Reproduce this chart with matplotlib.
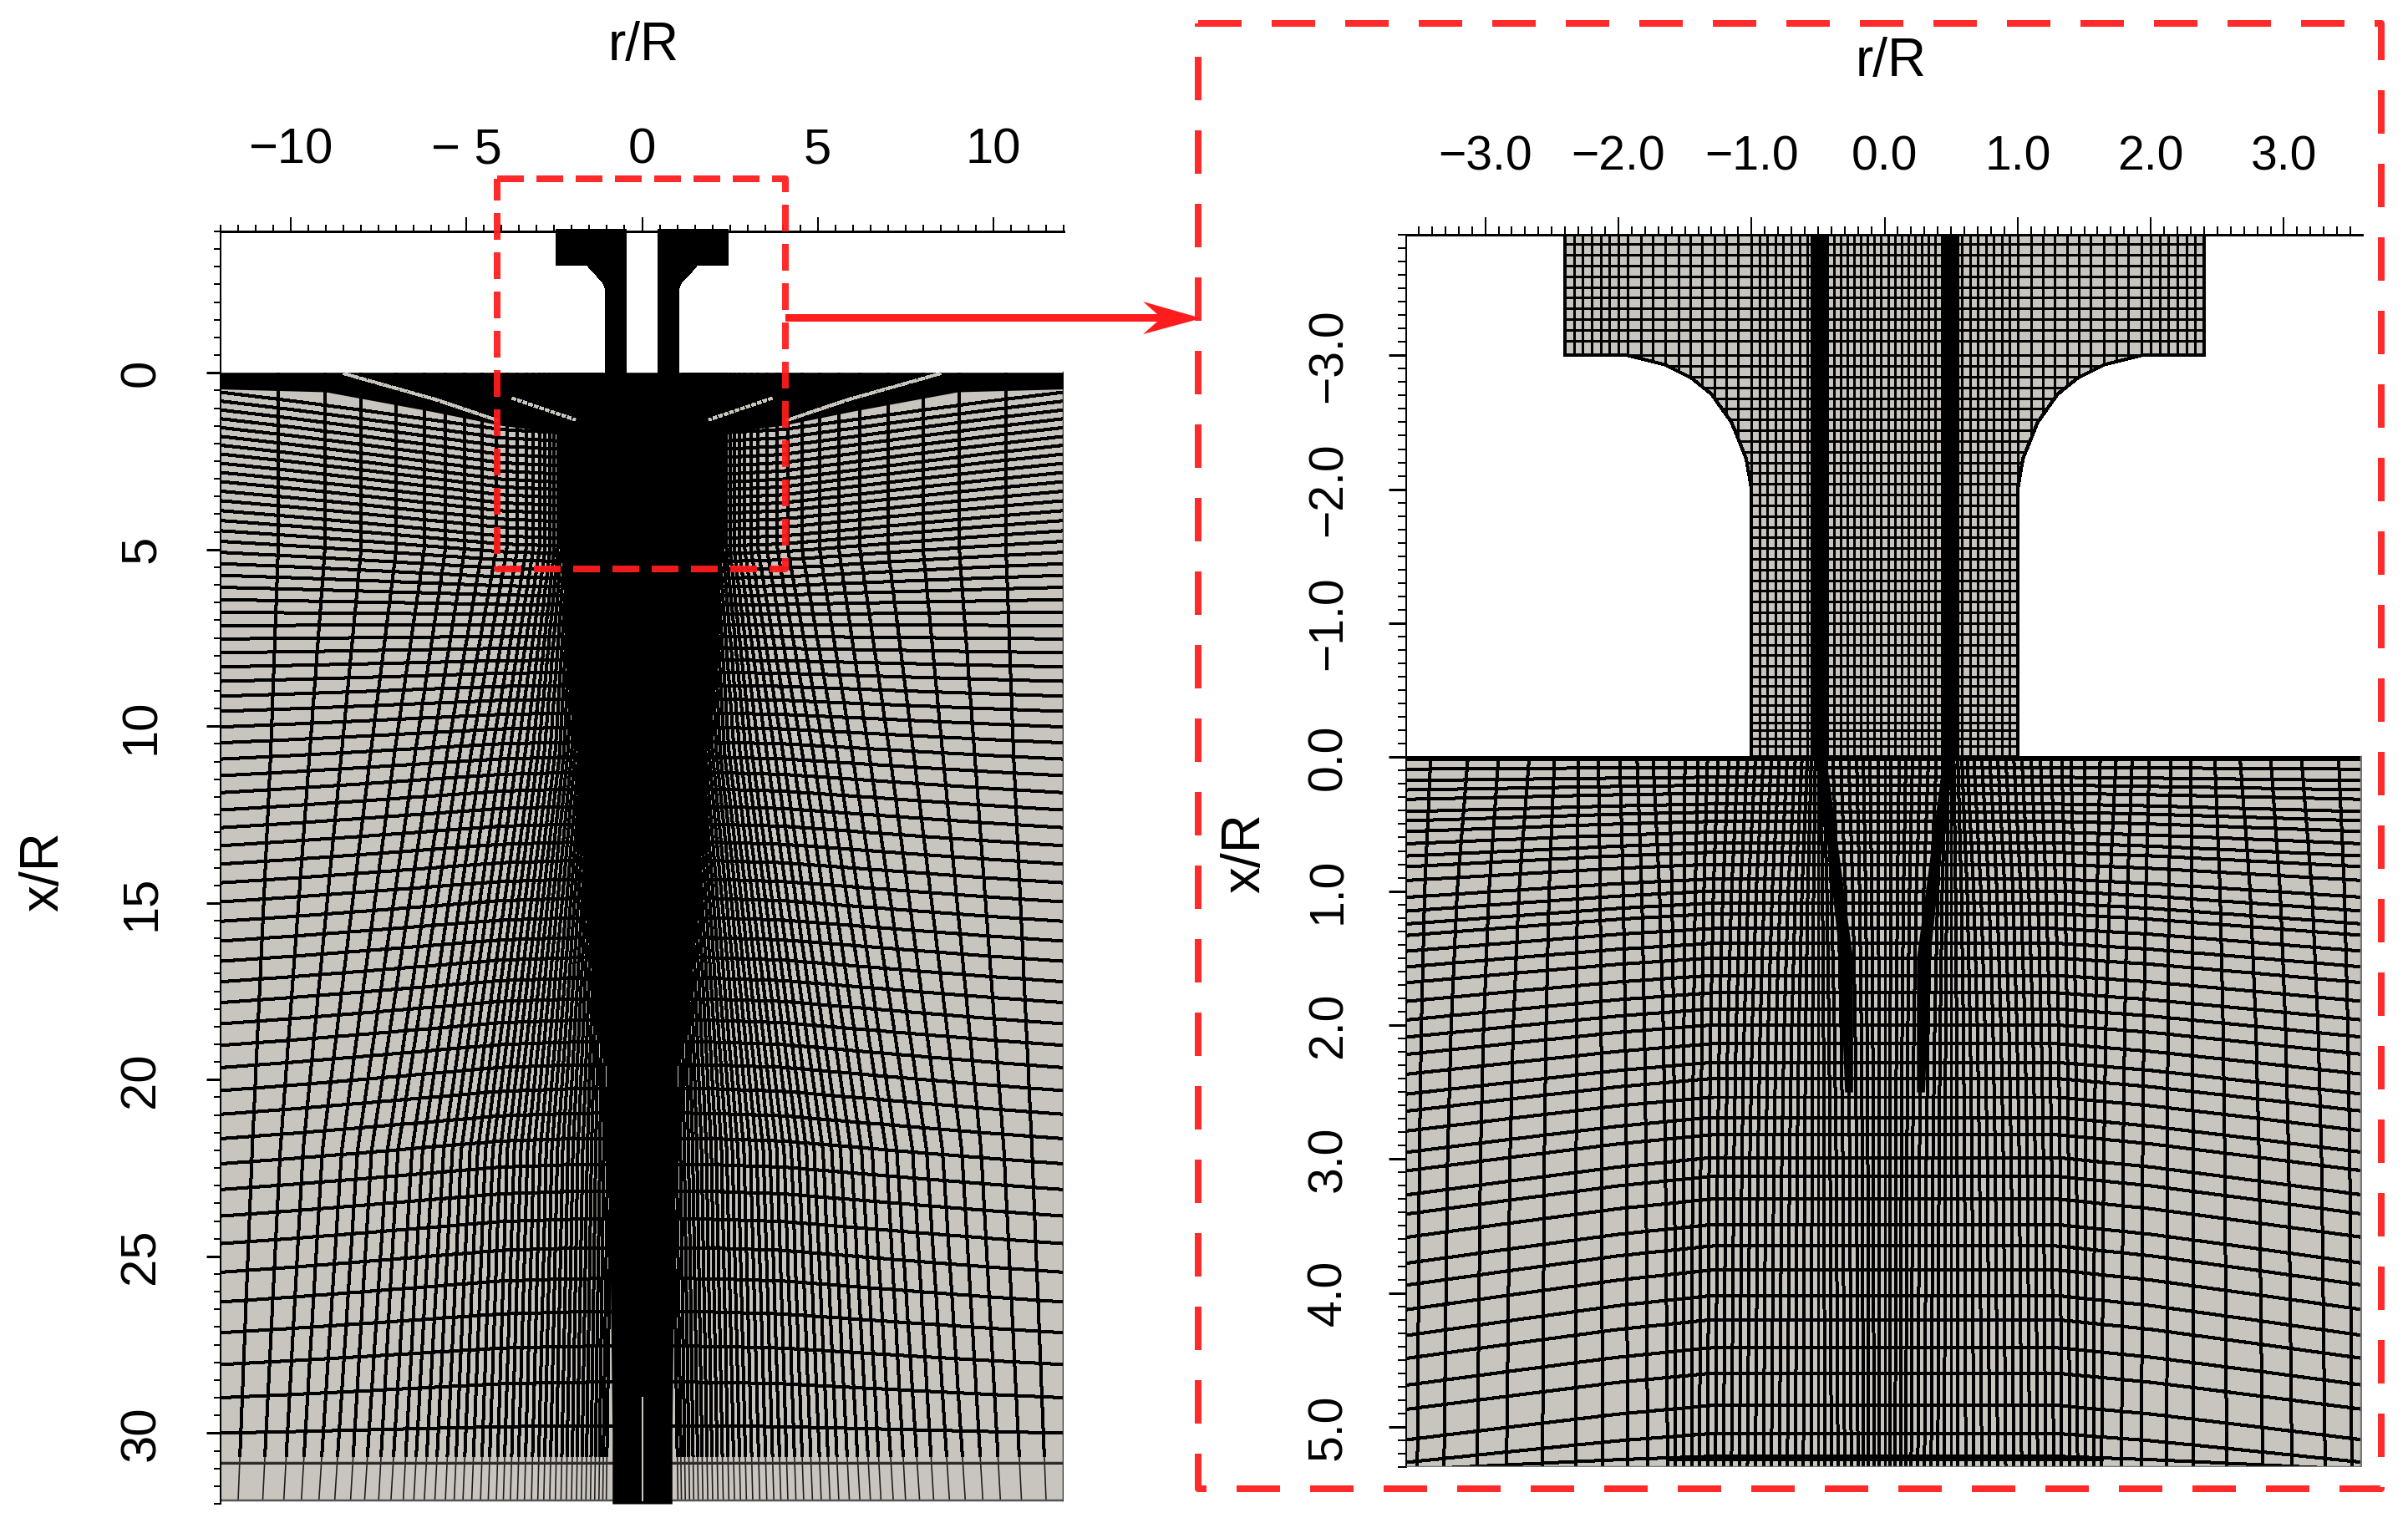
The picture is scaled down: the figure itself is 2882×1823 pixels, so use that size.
import numpy as np
import matplotlib
matplotlib.use("Agg")
import matplotlib.pyplot as plt
from matplotlib.collections import LineCollection
from matplotlib.patches import Polygon, Rectangle
from matplotlib.lines import Line2D

# ---------- values ----------
W, H = 2882, 1823
DPI = 200
GRAY = "#c8c5be"
RED = "#ff1c1c"

left_xticks = [-10, -5, 0, 5, 10]
left_xlabels = ["\u221210", "\u2212 5", "0", "5", "10"]
left_yticks = [0, 5, 10, 15, 20, 25, 30]
left_ylabels = ["0", "5", "10", "15", "20", "25", "30"]
right_xticks = [-3, -2, -1, 0, 1, 2, 3]
right_xlabels = ["\u22123.0", "\u22122.0", "\u22121.0", "0.0", "1.0", "2.0", "3.0"]
right_yticks = [-3, -2, -1, 0, 1, 2, 3, 4, 5]
right_ylabels = ["\u22123.0", "\u22122.0", "\u22121.0", "0.0", "1.0", "2.0", "3.0", "4.0", "5.0"]

# left mesh: columns (|r|) at depth stations
l_stations = [0, 5, 10.7, 22, 31.9]
l_col_5 = [10.36,9.03,8.0,7.0,6.2,5.6,5.05,4.55,4.15,3.85,3.55,3.3,3.1,2.92,2.76,2.62,2.5,2.4,2.3,2.2,2.11,2.03,1.96,1.89,1.83,1.77,1.72,1.68,1.64,1.6,1.56,1.52,1.48,1.44,1.4,1.36,1.32,1.28,1.24,1.2,1.16]
l_col_10 = [10.57,9.46,8.55,7.72,7.04,6.45,5.97,5.54,5.18,4.86,4.55,4.27,4.0,3.77,3.54,3.32,3.12,2.95,2.78,2.62,2.47,2.34,2.22,2.11,2.0,1.9,1.8,1.71,1.63,1.55,1.47,1.4,1.33,1.27,1.21,1.15,1.1,1.05,1.0,.95,.9]
l_col_22 = [11.1,10.3,9.65,9.1,8.55,8.1,7.7,7.25,6.95,6.55,6.25,5.95,5.65,5.4,5.15,4.9,4.68,4.46,4.25,4.04,3.84,3.64,3.45,3.26,3.08,2.9,2.73,2.57,2.41,2.26,2.11,1.97,1.83,1.69,1.56,1.44,1.32,1.2,1.09,.98,.88]
l_col_32 = [11.5,10.8,10.2,9.7,9.2,8.75,8.3,7.9,7.5,7.15,6.8,6.5,6.2,5.9,5.6,5.35,5.1,4.85,4.6,4.38,4.15,3.95,3.75,3.55,3.35,3.15,2.97,2.8,2.63,2.47,2.31,2.16,2.01,1.87,1.73,1.6,1.47,1.35,1.23,1.12,1.02]

# left mesh: rows, depth at the outer edge, and edge-minus-centre offset anchors
l_row_edge = [.55,.80,1.05,1.30,1.55,1.80,2.05,2.30,2.56,2.82,3.08,3.35,3.62,3.90,4.18,4.47,4.77,5.08,5.40,5.73,6.07,6.42,6.78,7.15,7.53,7.92,8.32,8.73,9.15,9.58,10.02,10.47,10.93,11.40,11.88,12.37,12.87,13.38,13.90,14.43,14.97,15.52,16.08,16.65,17.23,17.82,18.42,19.03,19.66,20.31,20.98,21.67,22.38,23.11,23.86,24.64,25.45,26.29,27.16,28.06,29.0,30.0,30.85]
l_off_e = [.55, 2, 4, 5.5, 7, 9, 12, 20, 26, 29, 30.85]
l_off_v = [-1.2, -1.1, -.8, -.4, 0, .3, .6, .75, .7, .45, 0]
l_shape_r = [0, 2, 4, 6, 8, 10, 12]
l_shape_h = [0, .03, .12, .35, .58, .8, 1]

# left mesh: solid regions and bright streaks
l_band_r = [12, 9, 6, 4, 2, 0]
l_band_x = [.47, .55, 1.1, 1.5, 1.75, 1.75]
l_core_x = [1.7, 5, 7, 8.5, 10, 15, 22, 30, 32]
l_core_r = [1.7, 1.75, 1.85, 1.45, 1.1, 1.0, .95, .85, .85]
l_streak_a_r = [8.5, 5.9, 4.1]
l_streak_a_x = [.02, .75, 1.35]
l_streak_b_r = [3.7, 1.9]
l_streak_b_x = [.72, 1.33]
l_nozzle_r = [2.45, 2.45, 1.57, 1.45, 1.3, 1.12, 1.05, 1.05]
l_nozzle_x = [-4.05, -3.05, -3.05, -2.9, -2.75, -2.55, -2.39, 0]
l_slit = .44

# right mesh, nozzle
r_nozzle_r = [2.4, 2.4, 1.93, 1.65, 1.45, 1.3, 1.15, 1.04, 1.0, 1.0]
r_nozzle_x = [-3.9, -3.0, -3.0, -2.93, -2.83, -2.71, -2.5, -2.23, -2.0, 0]
r_head_cols = [2.4,2.33,2.27,2.2,2.13,2.07,2.0,1.93,1.83,1.74,1.65,1.55,1.46,1.37,1.28,1.19,1.1]
r_neck_cols = [1.0,.94,.88,.82,.76,.70,.64,.58,.55,.53,.51,.49,.47,.45,.43,.38,.33,.28,.23,.18,.13,.08,.03]
r_neck_rows = [-3.83,-3.75,-3.67,-3.59,-3.51,-3.43,-3.35,-3.27,-3.19,-3.11,-3.0,-2.92,-2.84,-2.76,-2.68,-2.60,-2.52,-2.44,-2.36,-2.28,-2.20,-2.12,-2.04,-1.96,-1.88,-1.80,-1.72,-1.64,-1.56,-1.48,-1.40,-1.32,-1.24,-1.16,-1.08,-1.0,-.92,-.84,-.76,-.68,-.60,-.53,-.46,-.39,-.32,-.26,-.20,-.14,-.08]

# right mesh, lower block
r_col_0 = [3.41,3.13,2.9,2.67,2.48,2.3,2.15,1.99,1.86,1.74,1.62,1.5,1.4,1.33,1.25,1.17,1.1,1.03,.97,.91,.85,.79,.73,.67,.62,.58,.55,.52,.5,.48,.46,.44,.39,.33,.27,.21,.16,.11,.05,0]
r_col_5 = [3.51,3.31,3.06,2.84,2.57,2.32,2.12,1.93,1.78,1.63,1.57,1.51,1.45,1.39,1.33,1.27,1.21,1.15,1.09,1.03,.97,.91,.85,.79,.73,.67,.61,.55,.5,.45,.4,.35,.3,.25,.2,.16,.12,.08,.04,0]
r_col_depth = [0, 1, 2, 3, 5.3]
r_col_frac = [0, .45, .7, .85, 1]
r_row_c = [.015,.077,.15,.21,.27,.35,.41,.48,.56,.64,.71,.8,.91,1.0,1.09,1.17,1.28,1.39,1.5,1.63,1.76,1.88,2.0,2.14,2.28,2.4,2.54,2.69,2.82,2.99,3.13,3.3,3.49,3.65,3.83,4.02,4.2,4.41,4.6,4.84,5.05,5.22]
r_drop_c = [0, .3, 1, 2, 3, 4, 5, 5.22]
r_drop_v = [0, .05, .15, .22, .28, .3, .25, .1]
r_shape_r = [0, 1.3, 2, 2.8, 3.6]
r_shape_h = [0, 0, .25, .62, 1]

# ---------- helpers ----------
px = 72 / DPI
plt.rcParams["font.family"] = ["Liberation Sans", "DejaVu Sans"]
plt.rcParams["lines.scale_dashes"] = False
fig = plt.figure(figsize=(W / DPI, H / DPI), dpi=DPI, facecolor="white")

def axes_px(l, t, r, b):
    return fig.add_axes([l / W, 1 - b / H, (r - l) / W, (b - t) / H])

def style(ax, xt, xl, yt, yl, minor_x, minor_y, major_len, minor_len, pad_x, pad_y, fs):
    ax.xaxis.tick_top()
    ax.set_xticks(xt)
    ax.set_xticklabels(xl, fontsize=fs)
    ax.set_yticks(yt)
    ax.set_yticklabels(yl, fontsize=fs, rotation=90, va="center")
    ax.set_xticks(minor_x, minor=True)
    ax.set_yticks(minor_y, minor=True)
    ax.tick_params(which="major", length=major_len * px, width=2 * px, pad=pad_x, axis="x")
    ax.tick_params(which="major", length=major_len * px, width=3 * px, pad=pad_y, axis="y")
    ax.tick_params(which="minor", length=minor_len * px, width=2 * px)
    for s in ("right", "bottom"):
        ax.spines[s].set_visible(False)
    ax.spines["top"].set_linewidth(3 * px)
    ax.spines["left"].set_linewidth(2 * px)
    ax.patch.set_alpha(0)

# ---------- left panel ----------
axL = axes_px(264, 277, 1273, 1800)
axL.set_xlim(-12, 12)
axL.set_ylim(32, -4)
LW = 3 * px
axL.add_patch(Rectangle((-12, 0), 24, 31.9, fc=GRAY, ec="none", zorder=1))

cols = np.array([l_col_5, l_col_5, l_col_10, l_col_22, l_col_32])
depth = np.linspace(0, 31.9, 130)
upper, lower = [], []
for i in range(cols.shape[1]):
    rr = np.interp(depth, l_stations, cols[:, i])
    for sgn in (-1, 1):
        m = depth <= 30.85
        upper.append(np.column_stack([sgn * rr[m], depth[m]]))
        lower.append(np.column_stack([sgn * rr[depth >= 30.6], depth[depth >= 30.6]]))
r_line = np.linspace(-12, 12, 481)
shape = np.interp(np.abs(r_line), l_shape_r, l_shape_h)
rows = []
for e in l_row_edge:
    c = e - np.interp(e, l_off_e, l_off_v)
    rows.append(np.column_stack([r_line, np.minimum(c + (e - c) * shape, 30.85)]))
axL.add_collection(LineCollection(upper + rows, colors="k", linewidths=LW, antialiaseds=False, zorder=2))
axL.add_collection(LineCollection(lower, colors="#1c1c1c", linewidths=1.6 * px, antialiaseds=True, zorder=2))
axL.plot([-12, 12], [30.85, 30.85], color="#333333", lw=2.5 * px, zorder=2)
axL.plot([-12, 12], [31.9, 31.9], color="#555555", lw=2.5 * px, zorder=2)
axL.plot([12, 12], [0, 31.9], color="#333333", lw=2.5 * px, zorder=2)

band_r = list(l_band_r) + [-v for v in l_band_r[::-1]]
band_x = list(l_band_x) + list(l_band_x[::-1])
axL.add_patch(Polygon(list(zip(band_r, band_x)) + [(-12, 0), (12, 0)], fc="k", ec="none", zorder=3))
core_r = np.array(l_core_r)
axL.fill_betweenx(l_core_x, -core_r, core_r, color="k", lw=0, zorder=3)
for sgn in (-1, 1):
    axL.plot(sgn * np.array(l_streak_a_r), l_streak_a_x, color=GRAY, lw=2.6 * px, dashes=(9 * px, 2 * px),
             antialiased=False, zorder=4)
    axL.plot(sgn * np.array(l_streak_b_r), l_streak_b_x, color=GRAY, lw=2.6 * px, dashes=(5 * px, 2.5 * px),
             antialiased=False, zorder=4)
    pts = [(sgn * a, b) for a, b in zip(l_nozzle_r, l_nozzle_x)] + [(sgn * l_slit, 0), (sgn * l_slit, -4.05)]
    axL.add_patch(Polygon(pts, fc="k", ec="none", zorder=5, clip_on=False, antialiased=False))
axL.plot([.02, .02], [29, 31.9], color=GRAY, lw=2 * px, zorder=6)

style(axL, left_xticks, left_xlabels, left_yticks, left_ylabels,
      np.arange(-12, 12.01, .5), np.arange(-4, 32.01, .5), 17, 8, 19, 18, 21.5)

# ---------- right panel ----------
axR = axes_px(1683, 281, 2827, 1756)
axR.set_xlim(-3.594, 3.587)
axR.set_ylim(5.3, -3.9)
axR.add_patch(Rectangle((-3.6, 0), 7.2, 5.3, fc=GRAY, ec="none", zorder=1))

outline = [(-a, b) for a, b in zip(r_nozzle_r, r_nozzle_x)]
outline += [(a, b) for a, b in zip(r_nozzle_r[::-1], r_nozzle_x[::-1])]
noz = Polygon(outline, closed=True, fc=GRAY, ec="k", lw=3 * px, zorder=1, antialiased=False)
axR.add_patch(noz)

seg = []
for c in list(r_head_cols) + list(r_neck_cols):
    for sgn in (-1, 1):
        seg.append([(sgn * c, -3.9), (sgn * c, 0)])
for y in r_neck_rows:
    seg.append([(-2.4, y), (2.4, y)])
lc = LineCollection(seg, colors="k", linewidths=LW, antialiaseds=False, zorder=2)
axR.add_collection(lc)
lc.set_clip_path(noz)
for sgn in (-1, 1):
    axR.fill_betweenx([-3.9, 0], sgn * .44, sgn * .52, color="k", lw=0, zorder=2)

depth = np.linspace(0, 5.3, 80)
frac = np.interp(depth, r_col_depth, r_col_frac)
seg = []
for a, b in zip(r_col_0, r_col_5):
    rr = a + (b - a) * frac
    seg.append(np.column_stack([rr, depth]))
    seg.append(np.column_stack([-rr, depth]))
r_line = np.linspace(-3.6, 3.6, 241)
shape = np.interp(np.abs(r_line), r_shape_r, r_shape_h)
for c in r_row_c:
    seg.append(np.column_stack([r_line, c + np.interp(c, r_drop_c, r_drop_v) * shape]))
seg.append(np.array([(-3.6, 0.0), (3.6, 0.0)]))
lc2 = LineCollection(seg, colors="k", linewidths=LW, antialiaseds=False, zorder=2)
axR.add_collection(lc2)
for sgn in (-1, 1):
    axR.fill_betweenx([0, 1.5, 2.5], sgn * np.array([.44, .24, .24]), sgn * np.array([.5, .34, .3]),
                      color="k", lw=0, zorder=3)
axR.plot([-1.63, 1.63], [5.24, 5.24], color="k", lw=5 * px, zorder=3)
axR.plot([-3.6, 3.6], [5.3, 5.3], color="#777777", lw=2.5 * px, zorder=3)
axR.plot([3.58, 3.58], [0, 5.3], color="#777777", lw=2.5 * px, zorder=3)

style(axR, right_xticks, right_xlabels, right_yticks, right_ylabels,
      np.arange(-3.5, 3.51, .1), np.arange(-3.9, 5.301, .1), 21, 10, 16, 16, 20.5)

# ---------- overlay: axis titles and red annotation ----------
ov = fig.add_axes([0, 0, 1, 1], zorder=20)
ov.set_xlim(0, W)
ov.set_ylim(H, 0)
ov.axis("off")
ov.patch.set_alpha(0)
TITLE = 23
ov.text(770, 55, "r/R", ha="center", va="center", fontsize=TITLE)
ov.text(2263, 74, "r/R", ha="center", va="center", fontsize=TITLE)
ov.text(52, 1043, "x/R", ha="center", va="center", rotation=90, fontsize=TITLE)
ov.text(1490, 1021, "x/R", ha="center", va="center", rotation=90, fontsize=TITLE)

ov.add_line(Line2D([595, 940, 940, 595, 595], [214, 214, 681, 681, 214], color=RED, alpha=.94,
                   lw=8 * px, dashes=(32 * px, 15 * px), dash_capstyle="butt"))
ov.add_line(Line2D([1434, 2850, 2850, 1434, 1434], [28, 28, 1782, 1782, 28], color=RED, alpha=.94,
                   lw=8 * px, dashes=(52 * px, 36 * px), dash_capstyle="butt"))
ov.add_patch(Polygon([(940, 376), (1385, 376), (1368, 361), (1438, 381), (1368, 400), (1385, 385), (940, 385)],
                     fc=RED, ec="none"))

fig.savefig("out.png", dpi=DPI, facecolor="white")
